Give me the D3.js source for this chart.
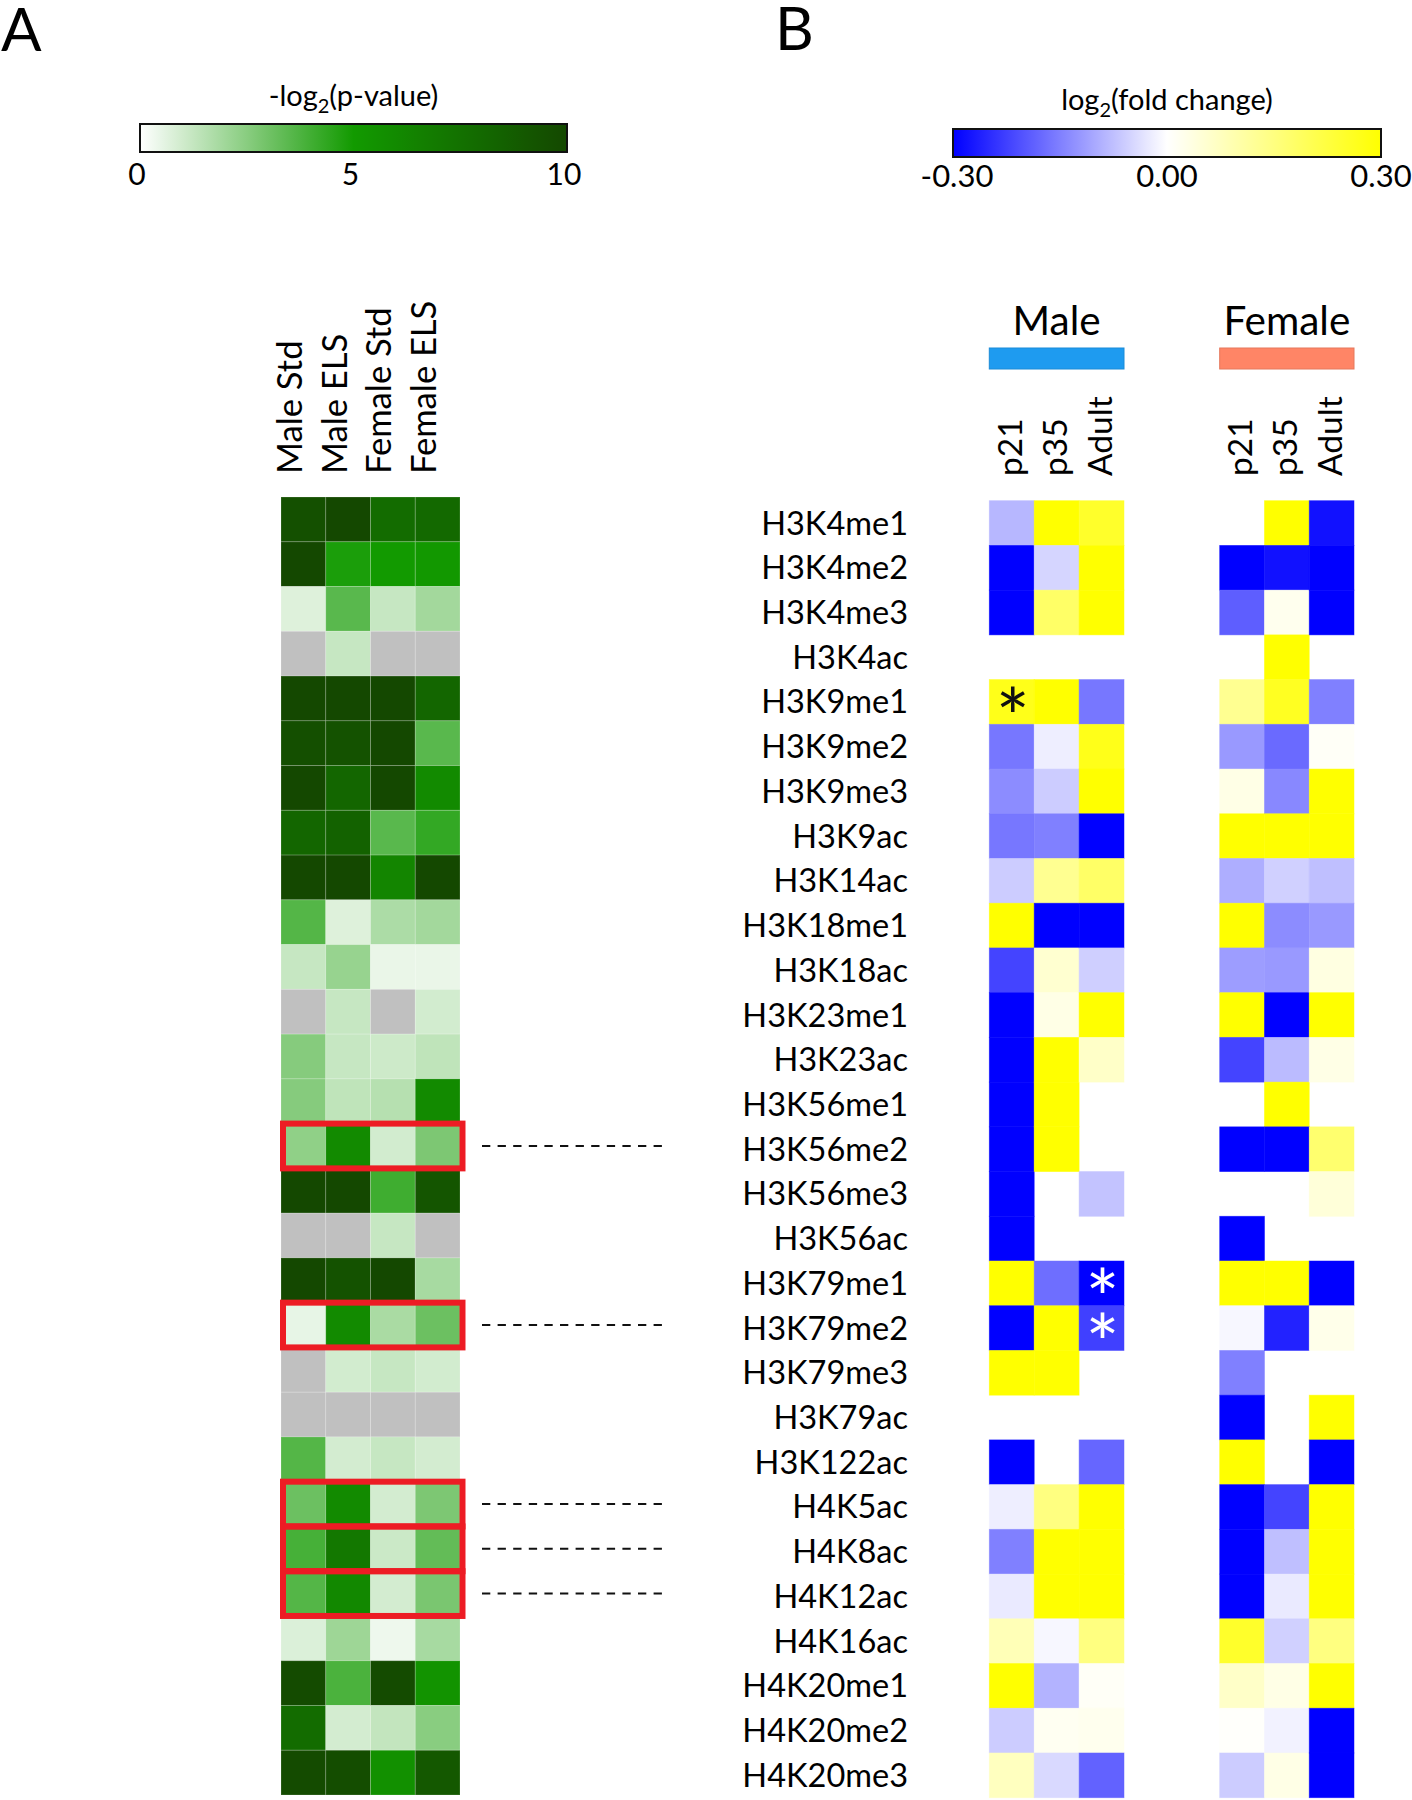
<!DOCTYPE html>
<html><head><meta charset="utf-8">
<script src="https://cdn.jsdelivr.net/npm/d3@7"></script>
<style>body{margin:0;background:#fff}svg{display:block;font-family:Lato,"Noto Sans",sans-serif}</style>
</head><body><svg id="chart" width="1412" height="1800"></svg>
<script>
// ---------------- DATA ----------------
const rows = ["H3K4me1","H3K4me2","H3K4me3","H3K4ac","H3K9me1","H3K9me2","H3K9me3","H3K9ac","H3K14ac","H3K18me1","H3K18ac","H3K23me1","H3K23ac","H3K56me1","H3K56me2","H3K56me3","H3K56ac","H3K79me1","H3K79me2","H3K79me3","H3K79ac","H3K122ac","H4K5ac","H4K8ac","H4K12ac","H4K16ac","H4K20me1","H4K20me2","H4K20me3"];

// Panel A: -log2(p-value); null = not available (grey)
const pvalCols = ["Male Std","Male ELS","Female Std","Female ELS"];
const pMaleStd   = [9.5,10,0.7,null,10,9.6,10,8.2,10,3.6,1.2,null,2.55,2.55,2.35,10,null,10,0.5,null,null,3.6,3.1,3.9,3.6,0.75,9.8,7.8,9.8];
const pMaleELS   = [10,4.8,3.5,1.2,10,9.4,8.2,8.4,10,0.7,2.2,1.2,1.2,1.35,6,10,null,9.4,6,0.95,null,0.93,6,7.1,6.1,2.05,3.8,0.93,9.7];
const pFemaleStd = [7.8,5,1.2,null,10,10,10,3.5,6.3,1.75,0.45,null,1.05,1.55,0.95,4.05,1.2,10,1.8,1.2,null,1.2,0.93,1.1,0.93,0.35,9.8,1.27,5.6];
const pFemaleELS = [8,5.1,1.95,null,8.2,3.5,6,4.3,10,1.95,0.45,0.95,1.35,6,2.75,9.2,null,1.85,3.1,0.95,null,0.93,2.75,3.3,2.8,1.85,5.4,2.5,9];
const highlightRows = ["H3K56me2","H3K79me2","H4K5ac","H4K8ac","H4K12ac"];
const pvalTicks = [0,5,10];
const pvalTickLabels = ["0","5","10"];

// Panel B: log2(fold change); null = blank
const ages = ["p21","p35","Adult"];
const sexes = ["Male","Female"];
const fcMaleP21     = [-0.085,-0.3,-0.3,null,0.27,-0.16,-0.135,-0.16,-0.06,0.3,-0.22,-0.3,-0.3,-0.3,-0.3,-0.3,-0.3,0.3,-0.3,0.3,null,-0.3,-0.02,-0.15,-0.025,0.085,0.3,-0.06,0.075];
const fcMaleP35     = [0.3,-0.05,0.18,null,0.3,-0.02,-0.06,-0.15,0.13,-0.3,0.055,0.03,0.3,0.3,0.3,null,null,-0.17,0.3,0.3,null,null,0.15,0.3,0.3,-0.01,-0.09,0.015,-0.045];
const fcMaleAdult   = [0.25,0.3,0.3,null,-0.16,0.27,0.3,-0.3,0.18,-0.3,-0.057,0.3,0.065,null,null,-0.07,null,-0.3,-0.225,null,null,-0.18,0.3,0.3,0.3,0.15,0.01,0.02,-0.185];
const fcFemaleP21   = [null,-0.3,-0.19,null,0.13,-0.12,0.03,0.3,-0.095,0.3,-0.115,0.3,-0.22,null,-0.3,null,-0.3,0.3,-0.01,-0.15,-0.3,0.3,-0.3,-0.3,-0.3,0.25,0.065,0.005,-0.06];
const fcFemaleP35   = [0.3,-0.28,0.02,0.3,0.26,-0.175,-0.14,0.3,-0.055,-0.135,-0.12,-0.3,-0.08,0.3,-0.3,null,null,0.3,-0.26,null,null,null,-0.22,-0.075,-0.025,-0.055,0.03,-0.015,0.03];
const fcFemaleAdult = [-0.28,-0.3,-0.3,null,-0.15,0.01,0.3,0.3,-0.075,-0.12,0.035,0.3,0.03,null,0.17,0.045,null,-0.3,0.025,null,0.3,-0.3,0.3,0.3,0.3,0.15,0.3,-0.3,-0.3];
const stars = [
  {sex:"Male", age:"p21", row:"H3K9me1", color:"#111"},
  {sex:"Male", age:"Adult", row:"H3K79me1", color:"#fff"},
  {sex:"Male", age:"Adult", row:"H3K79me2", color:"#fff"}
];
const fcTicks = [-0.3,0,0.3];
const fcTickLabels = ["-0.30","0.00","0.30"];
const sexColors = {Male:"#1e9bf0", Female:"#ff8566"};

// ---------------- CHART ----------------
const svg = d3.select("#chart");
svg.append("rect").attr("width",1412).attr("height",1800).attr("fill","#fff");
const defs = svg.append("defs");

const greenScale = d3.scaleLinear().domain([0,5,10]).range(["#ffffff","#129a00","#144800"]).clamp(true);
const fcScale = d3.scaleLinear().domain([-0.3,0,0.3]).range(["#0000ff","#ffffff","#ffff00"]).clamp(true);

// panel letters
svg.append("text").attr("x",1).attr("y",51).attr("font-size",60).text("A");
svg.append("text").attr("x",775).attr("y",50).attr("font-size",60).text("B");

// ---- colorbar A
const xA = d3.scaleLinear().domain([0,10]).range([140,567]);
const gA = defs.append("linearGradient").attr("id","gradA");
d3.range(0,10.001,0.5).forEach(v=>gA.append("stop").attr("offset",(v/10*100)+"%").attr("stop-color",greenScale(v)));
svg.append("rect").attr("x",xA(0)).attr("y",124).attr("width",xA(10)-xA(0)).attr("height",28)
  .attr("fill","url(#gradA)").attr("stroke","#111").attr("stroke-width",2);
const tA = svg.append("text").attr("x",(xA(0)+xA(10))/2).attr("y",106).attr("text-anchor","middle").attr("font-size",29);
tA.append("tspan").text("-log");
tA.append("tspan").attr("font-size",20).attr("dy",7).text("2");
tA.append("tspan").attr("dy",-7).text("(p-value)");
svg.selectAll(".tickA").data(pvalTicks).join("text").attr("class","tickA")
  .attr("x",d=>xA(d)-3).attr("y",185).attr("text-anchor","middle").attr("font-size",30)
  .text((d,i)=>pvalTickLabels[i]);

// ---- colorbar B
const xB = d3.scaleLinear().domain([-0.3,0.3]).range([953,1381]);
const gB = defs.append("linearGradient").attr("id","gradB");
d3.range(-0.3,0.3001,0.03).forEach(v=>gB.append("stop").attr("offset",((v+0.3)/0.6*100)+"%").attr("stop-color",fcScale(v)));
svg.append("rect").attr("x",xB(-0.3)).attr("y",129).attr("width",xB(0.3)-xB(-0.3)).attr("height",28)
  .attr("fill","url(#gradB)").attr("stroke","#111").attr("stroke-width",2);
const tB = svg.append("text").attr("x",(xB(-0.3)+xB(0.3))/2).attr("y",110).attr("text-anchor","middle").attr("font-size",29);
tB.append("tspan").text("log");
tB.append("tspan").attr("font-size",20).attr("dy",7).text("2");
tB.append("tspan").attr("dy",-7).text("(fold change)");
svg.selectAll(".tickB").data(fcTicks).join("text").attr("class","tickB")
  .attr("x",(d,i)=>xB(d)+(i===0?4:0)).attr("y",187).attr("text-anchor","middle").attr("font-size",31)
  .text((d,i)=>fcTickLabels[i]);

// ---- Panel A heatmap
const yL = d3.scaleBand().domain(rows).range([497,1795]);
const xL = d3.scaleBand().domain(pvalCols).range([281,460]);
const pData = [pMaleStd,pMaleELS,pFemaleStd,pFemaleELS];
const pCells = [];
pvalCols.forEach((c,ci)=>rows.forEach((r,ri)=>pCells.push({c,r,v:pData[ci][ri]})));
svg.append("g").selectAll("rect").data(pCells).join("rect")
  .attr("x",d=>xL(d.c)).attr("y",d=>yL(d.r)).attr("width",xL.bandwidth()).attr("height",yL.bandwidth())
  .attr("fill",d=>d.v==null?"#c0c0c0":greenScale(d.v))
  .attr("stroke","rgba(255,255,255,0.18)").attr("stroke-width",1);

svg.append("g").selectAll("text").data(pvalCols).join("text")
  .attr("transform",d=>`translate(${xL(d)+xL.bandwidth()/2-1.5},474) rotate(-90)`)
  .attr("font-size",34.5).text(d=>d);

// red boxes
svg.append("g").selectAll("rect").data(highlightRows).join("rect")
  .attr("x",xL.range()[0]+2).attr("y",d=>yL(d)).attr("width",xL.range()[1]-xL.range()[0]+0.5).attr("height",yL.bandwidth())
  .attr("fill","none").attr("stroke","#ed1c24").attr("stroke-width",6);
// dashed connectors
svg.append("g").selectAll("line").data(highlightRows).join("line")
  .attr("x1",482).attr("x2",663).attr("y1",d=>yL(d)+yL.bandwidth()/2).attr("y2",d=>yL(d)+yL.bandwidth()/2)
  .attr("stroke","#111").attr("stroke-width",2).attr("stroke-dasharray","8.3,7.3");

// ---- Panel B heatmap
const yR = d3.scaleBand().domain(rows).range([500.7,1797.7]);
const xSex = {Male: d3.scaleBand().domain(ages).range([989.3,1124]), Female: d3.scaleBand().domain(ages).range([1219.7,1354])};
const fcData = {Male:[fcMaleP21,fcMaleP35,fcMaleAdult], Female:[fcFemaleP21,fcFemaleP35,fcFemaleAdult]};
const fcCells = [];
sexes.forEach(s=>ages.forEach((a,ai)=>rows.forEach((r,ri)=>{
  const v = fcData[s][ai][ri]; if (v!=null) fcCells.push({s,a,r,v});
})));
svg.append("g").selectAll("rect").data(fcCells).join("rect")
  .attr("x",d=>xSex[d.s](d.a)).attr("y",d=>yR(d.r))
  .attr("width",d=>xSex[d.s].bandwidth()).attr("height",yR.bandwidth())
  .attr("fill",d=>fcScale(d.v)).attr("stroke",d=>fcScale(d.v)).attr("stroke-opacity",0.6).attr("stroke-width",0.8);

// row labels
svg.append("g").selectAll("text").data(rows).join("text")
  .attr("x",908).attr("y",d=>yR(d)+yR.bandwidth()/2+11.5).attr("text-anchor","end").attr("font-size",32.5).text(d=>d);

// sex headers
sexes.forEach(s=>{
  const sc = xSex[s]; const [x0,x1] = sc.range();
  svg.append("text").attr("x",(x0+x1)/2).attr("y",335).attr("text-anchor","middle").attr("font-size",40.5).text(s);
  svg.append("rect").attr("x",x0).attr("y",348).attr("width",x1-x0).attr("height",21)
    .attr("fill",sexColors[s]).attr("stroke",d3.color(sexColors[s]).darker(0.3).formatHex()).attr("stroke-width",1);
  svg.append("g").selectAll("text").data(ages).join("text")
    .attr("transform",d=>`translate(${sc(d)+sc.bandwidth()/2+10},476) rotate(-90)`)
    .attr("font-size",33.5).text(d=>d);
});

// significance stars
svg.append("g").selectAll("text").data(stars).join("text")
  .attr("x",d=>xSex[d.sex](d.age)+xSex[d.sex].bandwidth()/2+1)
  .attr("y",d=>yR(d.row)+yR.bandwidth()/2+44)
  .attr("text-anchor","middle").attr("font-size",80).attr("fill",d=>d.color).text("*");
</script></body></html>
